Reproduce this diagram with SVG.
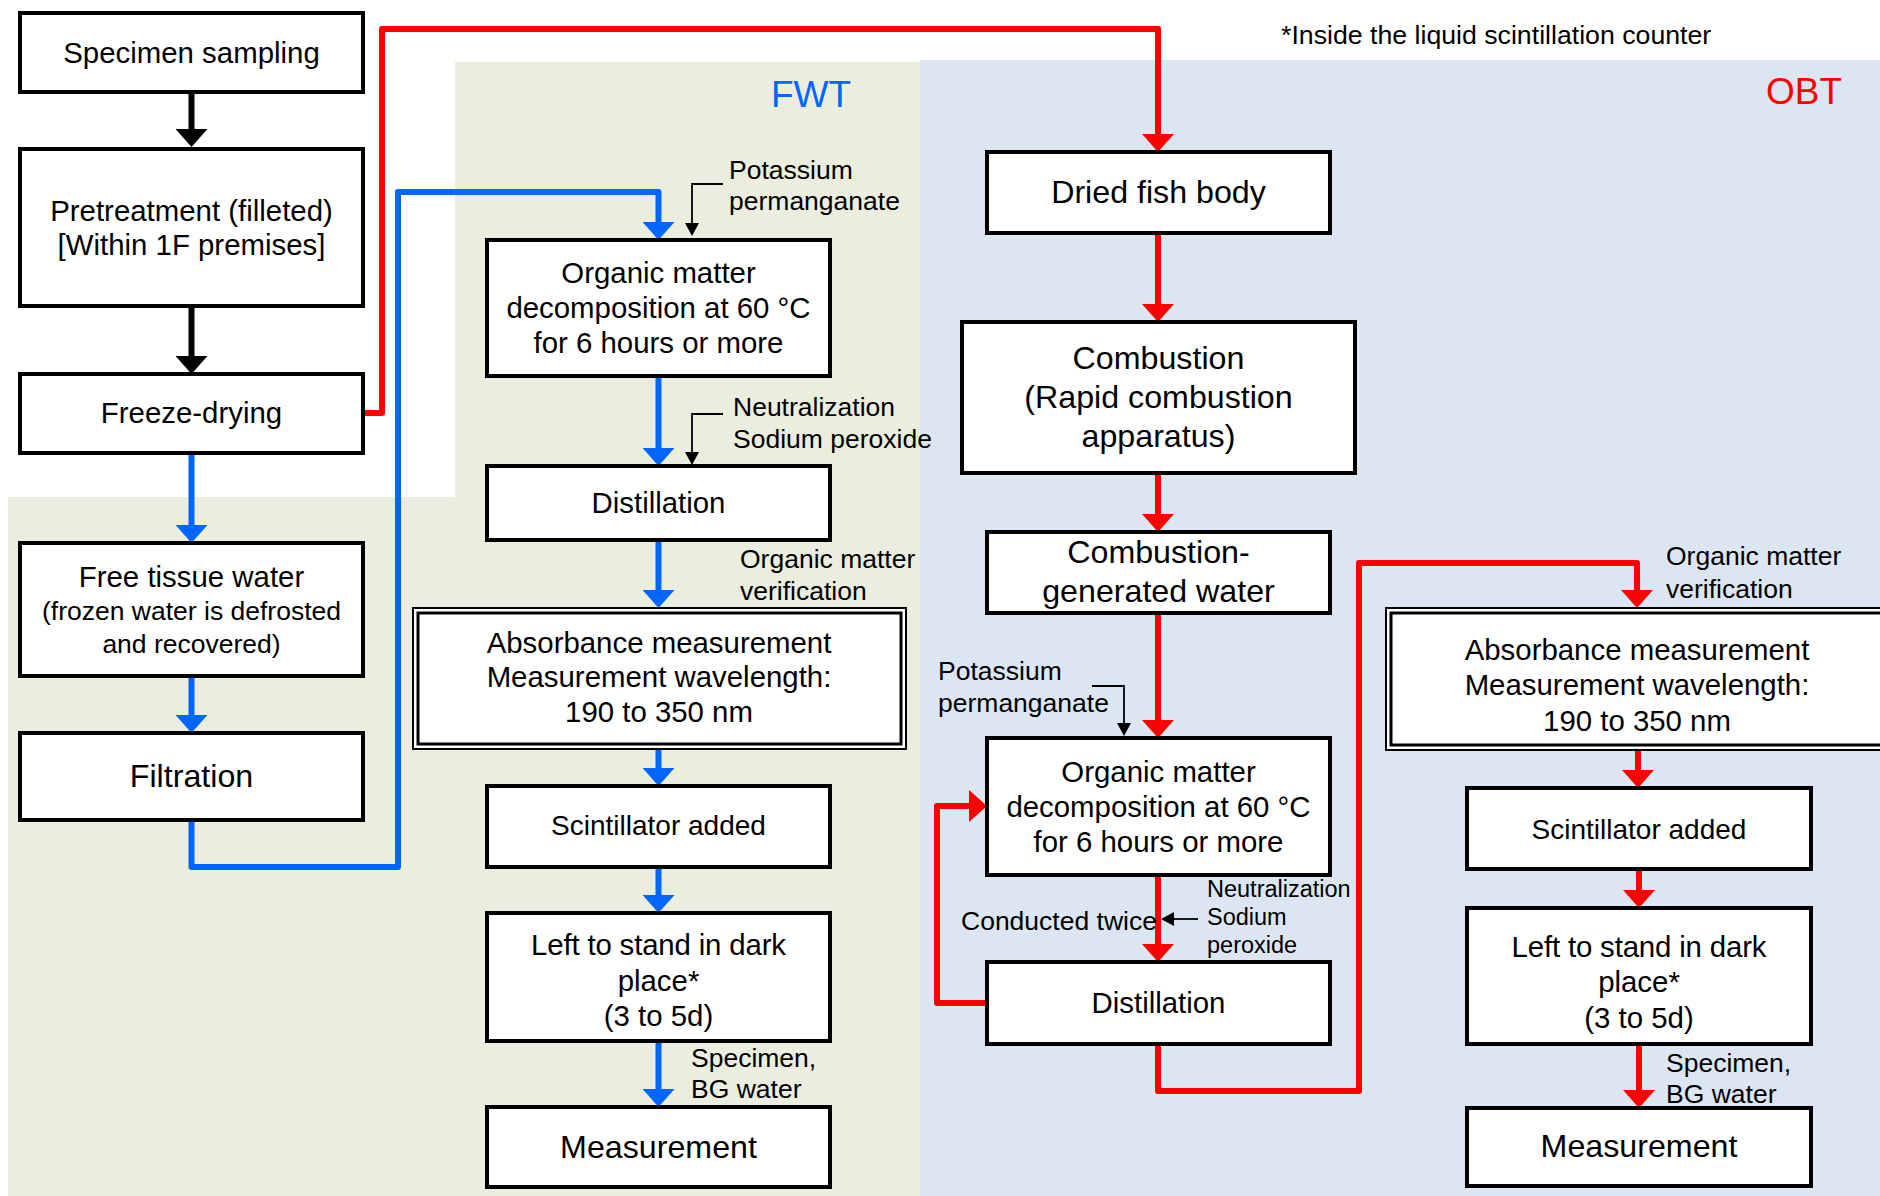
<svg xmlns="http://www.w3.org/2000/svg" width="1880" height="1196" viewBox="0 0 1880 1196">
<style>
text{font-family:"Liberation Sans",Arial,sans-serif;fill:#000}
.box{fill:#fff;stroke:#000;stroke-width:4}
.dbo{fill:#fff;stroke:#000;stroke-width:2}
.dbi{fill:none;stroke:#000;stroke-width:3}
.t{font-size:29.4px;text-anchor:middle}
.tl{font-size:32.2px;text-anchor:middle}
.ts{font-size:26.5px;text-anchor:middle}
.a{font-size:26.5px}
.as{font-size:23.5px}
.k{fill:none;stroke:#000;stroke-width:6;stroke-linejoin:round}
.b{fill:none;stroke:#0066FF;stroke-width:6;stroke-linejoin:round}
.r{fill:none;stroke:#FF0000;stroke-width:6;stroke-linejoin:round}
.th{fill:none;stroke:#000;stroke-width:1.8}
</style>
<defs>
<marker id="mk" markerUnits="userSpaceOnUse" viewBox="0 0 18 32" markerWidth="18" markerHeight="32" refX="8" refY="16" orient="auto"><path d="M0,0 L18,16 L0,32 Z" fill="#000"/></marker>
<marker id="mb" markerUnits="userSpaceOnUse" viewBox="0 0 18 32" markerWidth="18" markerHeight="32" refX="8" refY="16" orient="auto"><path d="M0,0 L18,16 L0,32 Z" fill="#0066FF"/></marker>
<marker id="mr" markerUnits="userSpaceOnUse" viewBox="0 0 18 32" markerWidth="18" markerHeight="32" refX="8" refY="16" orient="auto"><path d="M0,0 L18,16 L0,32 Z" fill="#FF0000"/></marker>
<marker id="mt" markerUnits="userSpaceOnUse" viewBox="0 0 13 14" markerWidth="13" markerHeight="14" refX="6" refY="7" orient="auto"><path d="M0,0 L13,7 L0,14 Z" fill="#000"/></marker>
</defs>

<g id="background">
<rect x="0" y="0" width="1880" height="1196" fill="#fff"/>
<path d="M455,62 L920,62 L920,1196 L8,1196 L8,497 L455,497 Z" fill="#EBEEDE"/>
<rect x="920" y="60" width="960" height="1136" fill="#DCE6F2"/>
</g>

<g id="titles">
<text x="771" y="107" style="font-size:37px;fill:#0066FF">FWT</text>
<text x="1766" y="104" style="font-size:37px;fill:#FF0000">OBT</text>
<text x="1281" y="44" style="font-size:26.7px">*Inside the liquid scintillation counter</text>
</g>

<g id="connectors">
<path class="k" d="M191.5,92 V137" marker-end="url(#mk)"/>
<path class="k" d="M191.5,306 V364" marker-end="url(#mk)"/>
<path class="r" d="M363,413 H382 V29 H1158 V142" marker-end="url(#mr)"/>
<path class="r" d="M1158,233 V312" marker-end="url(#mr)"/>
<path class="r" d="M1158,473 V522" marker-end="url(#mr)"/>
<path class="r" d="M1158,613 V728" marker-end="url(#mr)"/>
<path class="r" d="M1158,875 V952" marker-end="url(#mr)"/>
<path class="r" d="M987,1003 H937 V806 H977" marker-end="url(#mr)"/>
<path class="r" d="M1158,1044 V1091 H1359 V563 H1637 V598" marker-end="url(#mr)"/>
<path class="r" d="M1638,750 V778" marker-end="url(#mr)"/>
<path class="r" d="M1639,869 V898" marker-end="url(#mr)"/>
<path class="r" d="M1639,1044 V1098" marker-end="url(#mr)"/>
<path class="b" d="M191.5,453 V533" marker-end="url(#mb)"/>
<path class="b" d="M191.5,676 V723" marker-end="url(#mb)"/>
<path class="b" d="M191.5,820 V867 H398 V192 H658.5 V230" marker-end="url(#mb)"/>
<path class="b" d="M658.5,376 V456" marker-end="url(#mb)"/>
<path class="b" d="M658.5,540 V598" marker-end="url(#mb)"/>
<path class="b" d="M658.5,749 V776" marker-end="url(#mb)"/>
<path class="b" d="M658.5,867 V903" marker-end="url(#mb)"/>
<path class="b" d="M658.5,1041 V1097" marker-end="url(#mb)"/>
<path class="th" d="M723,184 H692 V229" marker-end="url(#mt)"/>
<path class="th" d="M723,414 H692 V458" marker-end="url(#mt)"/>
<path class="th" d="M1092,686 H1124 V729" marker-end="url(#mt)"/>
<path class="th" d="M1198,919 H1168" marker-end="url(#mt)"/>
</g>

<g id="labels">
<text class="a" x="729" y="179">Potassium</text>
<text class="a" x="729" y="210">permanganate</text>
<text class="a" x="733" y="416">Neutralization</text>
<text class="a" x="733" y="448">Sodium peroxide</text>
<text class="a" x="740" y="568">Organic matter</text>
<text class="a" x="740" y="600">verification</text>
<text class="a" x="691" y="1067">Specimen,</text>
<text class="a" x="691" y="1098">BG water</text>
<text class="a" x="938" y="680">Potassium</text>
<text class="a" x="938" y="712">permanganate</text>
<text class="a" x="961" y="930">Conducted twice</text>
<text class="as" x="1207" y="897">Neutralization</text>
<text class="as" x="1207" y="925">Sodium</text>
<text class="as" x="1207" y="953">peroxide</text>
<text class="a" x="1666" y="565">Organic matter</text>
<text class="a" x="1666" y="598">verification</text>
<text class="a" x="1666" y="1072">Specimen,</text>
<text class="a" x="1666" y="1103">BG water</text>
</g>

<g id="n-specimen-sampling">
<rect class="box" x="20" y="13" width="343" height="79"/>
<text class="t" x="191.5" y="63">Specimen sampling</text>
</g>
<g id="n-pretreatment">
<rect class="box" x="20" y="149" width="343" height="157"/>
<text class="t" x="191.5" y="221">Pretreatment (filleted)</text>
<text class="t" x="191.5" y="255">[Within 1F premises]</text>
</g>
<g id="n-freeze-drying">
<rect class="box" x="20" y="374" width="343" height="79"/>
<text class="t" x="191.5" y="423">Freeze-drying</text>
</g>
<g id="n-free-tissue-water">
<rect class="box" x="20" y="543" width="343" height="133"/>
<text class="t" x="191.5" y="587">Free tissue water</text>
<text class="ts" x="191.5" y="620">(frozen water is defrosted</text>
<text class="ts" x="191.5" y="653">and recovered)</text>
</g>
<g id="n-filtration">
<rect class="box" x="20" y="733" width="343" height="87"/>
<text class="tl" x="191.5" y="787">Filtration</text>
</g>

<g id="n-fwt-decomposition">
<rect class="box" x="487" y="240" width="343" height="136"/>
<text class="t" x="658.5" y="283">Organic matter</text>
<text class="t" x="658.5" y="318">decomposition at 60 °C</text>
<text class="t" x="658.5" y="353">for 6 hours or more</text>
</g>
<g id="n-fwt-distillation">
<rect class="box" x="487" y="466" width="343" height="74"/>
<text class="t" x="658.5" y="513">Distillation</text>
</g>
<g id="n-fwt-absorbance">
<rect class="dbo" x="413" y="608" width="493" height="141"/>
<rect class="dbi" x="418" y="613" width="483" height="131"/>
<text class="t" x="659" y="653">Absorbance measurement</text>
<text class="t" x="659" y="687">Measurement wavelength:</text>
<text class="t" x="659" y="722">190 to 350 nm</text>
</g>
<g id="n-fwt-scintillator">
<rect class="box" x="487" y="786" width="343" height="81"/>
<text class="t" x="658.5" y="835" style="font-size:28px">Scintillator added</text>
</g>
<g id="n-fwt-dark">
<rect class="box" x="487" y="913" width="343" height="128"/>
<text class="t" x="658.5" y="955" textLength="255" lengthAdjust="spacing">Left to stand in dark</text>
<text class="t" x="658.5" y="991">place*</text>
<text class="t" x="658.5" y="1026">(3 to 5d)</text>
</g>
<g id="n-fwt-measurement">
<rect class="box" x="487" y="1107" width="343" height="80"/>
<text class="tl" x="658.5" y="1158">Measurement</text>
</g>

<g id="n-dried-fish">
<rect class="box" x="987" y="152" width="343" height="81"/>
<text class="tl" x="1158.5" y="203">Dried fish body</text>
</g>
<g id="n-combustion">
<rect class="box" x="962" y="322" width="393" height="151"/>
<text class="tl" x="1158.5" y="369">Combustion</text>
<text class="tl" x="1158.5" y="408">(Rapid combustion</text>
<text class="tl" x="1158.5" y="447">apparatus)</text>
</g>
<g id="n-combustion-water">
<rect class="box" x="987" y="532" width="343" height="81"/>
<text class="tl" x="1158.5" y="563">Combustion-</text>
<text class="tl" x="1158.5" y="602">generated water</text>
</g>
<g id="n-obt-decomposition">
<rect class="box" x="987" y="738" width="343" height="137"/>
<text class="t" x="1158.5" y="782">Organic matter</text>
<text class="t" x="1158.5" y="817">decomposition at 60 °C</text>
<text class="t" x="1158.5" y="852">for 6 hours or more</text>
</g>
<g id="n-obt-distillation">
<rect class="box" x="987" y="962" width="343" height="82"/>
<text class="t" x="1158.5" y="1013">Distillation</text>
</g>
<g id="n-obt-absorbance">
<rect class="dbo" x="1386" y="608" width="510" height="142"/>
<rect class="dbi" x="1391" y="613" width="500" height="132"/>
<text class="t" x="1637" y="660">Absorbance measurement</text>
<text class="t" x="1637" y="695">Measurement wavelength:</text>
<text class="t" x="1637" y="731">190 to 350 nm</text>
</g>
<g id="n-obt-scintillator">
<rect class="box" x="1467" y="788" width="344" height="81"/>
<text class="t" x="1639" y="839" style="font-size:28px">Scintillator added</text>
</g>
<g id="n-obt-dark">
<rect class="box" x="1467" y="908" width="344" height="136"/>
<text class="t" x="1639" y="957" textLength="255" lengthAdjust="spacing">Left to stand in dark</text>
<text class="t" x="1639" y="992">place*</text>
<text class="t" x="1639" y="1028">(3 to 5d)</text>
</g>
<g id="n-obt-measurement">
<rect class="box" x="1467" y="1108" width="344" height="78"/>
<text class="tl" x="1639" y="1157">Measurement</text>
</g>
</svg>
